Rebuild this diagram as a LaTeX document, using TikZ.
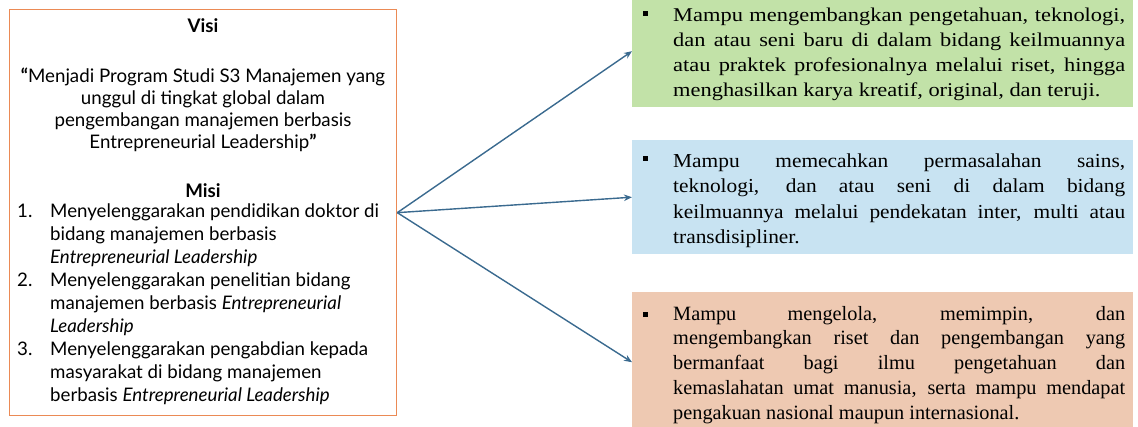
\documentclass[tikz,border=0pt]{standalone}
\usepackage{fontspec}
\setmainfont{Liberation Serif}
\newfontfamily\leftfont{Lato}
\newfontfamily\greenfont[FakeStretch=1.15]{Liberation Serif}
\newfontfamily\bluefont[FakeStretch=1.08]{Liberation Serif}
\usetikzlibrary{arrows.meta}
\definecolor{boxorange}{HTML}{EB8A55}
\definecolor{arrowblue}{HTML}{3A6A8F}
\definecolor{fillgreen}{HTML}{C2E2A8}
\definecolor{fillblue}{HTML}{C8E3F2}
\definecolor{fillsalmon}{HTML}{EEC9B2}
\tikzset{
  lefttext/.style={font=\leftfont\fontsize{18.7}{23}\selectfont, inner sep=0pt},
  lefttitle/.style={font=\leftfont\bfseries\fontsize{18.7}{23}\selectfont, inner sep=0pt, anchor=base},
  righttext/.style={inner sep=0pt, text width=452pt, align=justify, anchor=base west},
  colbox/.style={draw=none, minimum width=501pt, anchor=north west, inner sep=0pt},
  bulletsq/.style={fill=black, minimum size=5pt, inner sep=0pt},
  fanarrow/.style={draw=arrowblue, line width=1.4pt, -{Stealth[length=8pt,width=6.5pt]}}
}
\begin{document}
\begin{tikzpicture}[x=1pt,y=-1pt]
\useasboundingbox (0,0) rectangle (1138,426);
% left box
\node[draw=boxorange, line width=1.3pt, minimum width=387pt, minimum height=406pt, anchor=north west, inner sep=0pt] (vm) at (9,9) {};
\node[lefttitle] (visi) at (203,32) {Visi};
\node[lefttext, font=\leftfont\fontsize{18.7}{21.7}\selectfont, align=center, anchor=base] (visitxt) at (203,148) {\textbf{“}Menjadi Program Studi S3 Manajemen yang\\unggul di tingkat global dalam\\pengembangan manajemen berbasis\\Entrepreneurial Leadership\textbf{”}};
\node[lefttitle] (misi) at (203,197) {Misi};
\node[lefttext, anchor=base west] (n1) at (17,217) {1.};
\node[lefttext, align=left, anchor=base west] (m1) at (50,263) {Menyelenggarakan pendidikan doktor di\\bidang manajemen berbasis\\\textit{Entrepreneurial Leadership}};
\node[lefttext, anchor=base west] (n2) at (17,286) {2.};
\node[lefttext, align=left, anchor=base west] (m2) at (50,332) {Menyelenggarakan penelitian bidang\\manajemen berbasis \textit{Entrepreneurial}\\\textit{Leadership}};
\node[lefttext, anchor=base west] (n3) at (17,355) {3.};
\node[lefttext, align=left, anchor=base west] (m3) at (50,401) {Menyelenggarakan pengabdian kepada\\masyarakat di bidang manajemen\\berbasis \textit{Entrepreneurial Leadership}};
% right boxes
\node[colbox, fill=fillgreen, minimum height=112pt] (g) at (632,-5) {};
\node[colbox, fill=fillblue, minimum height=114pt] (b) at (632,140) {};
\node[colbox, fill=fillsalmon, minimum height=140pt] (r) at (632,292) {};
% bullets and texts
\node[bulletsq] (gb) at (645,13) {};
\node[righttext, font=\greenfont\fontsize{19.5}{25}\selectfont] (gt) at (673,21) {Mampu mengembangkan pengetahuan, teknologi,\linebreak dan atau seni baru di dalam bidang keilmuannya\linebreak atau praktek profesionalnya melalui riset, hingga\linebreak menghasilkan karya kreatif, original, dan teruji.};
\node[bulletsq] (bb) at (645,158) {};
\node[righttext, font=\bluefont\fontsize{19.8}{25.5}\selectfont] (bt) at (673,167) {Mampu memecahkan permasalahan sains,\linebreak teknologi, dan atau seni di dalam bidang\linebreak keilmuannya melalui pendekatan inter, multi atau\linebreak transdisipliner.};
\node[bulletsq] (rb) at (645,314) {};
\node[righttext, font=\fontsize{20.3}{24.75}\selectfont] (rt) at (673,320) {Mampu mengelola, memimpin, dan\linebreak mengembangkan riset dan pengembangan yang\linebreak bermanfaat bagi ilmu pengetahuan dan\linebreak kemaslahatan umat manusia, serta mampu mendapat\linebreak pengakuan nasional maupun internasional.};
% arrows
\draw[fanarrow] (vm.east) -- (g.west);
\draw[fanarrow] (vm.east) -- (b.west);
\draw[fanarrow] (vm.east) -- (r.west);
\end{tikzpicture}
\end{document}
